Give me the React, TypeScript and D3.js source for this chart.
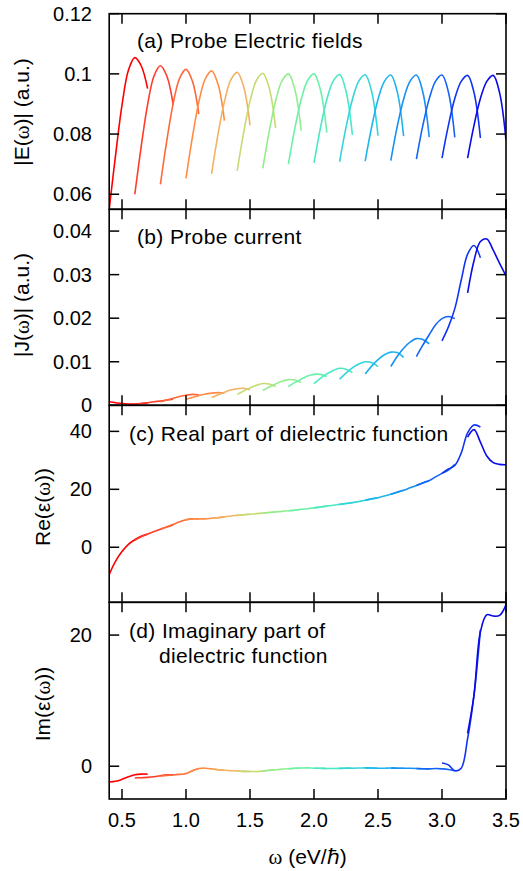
import React from "react";
import * as d3 from "d3";

// Probe central frequencies (eV/hbar); each segment spans centre-0.2 .. centre+0.1
const probeCenters = [0.6, 0.8, 1.0, 1.2, 1.4, 1.6, 1.8, 2.0, 2.2, 2.4, 2.6, 2.8, 3.0, 3.2, 3.4];
const segmentOffsets = [-0.2, -0.15, -0.1, -0.05, 0, 0.05, 0.1];

const segmentColors = [
  "#ff0000", "#ff3c28", "#ff6838", "#ff8c44", "#f2b264", "#c4dc72", "#92ee8c", "#6cf0aa",
  "#4ae8c4", "#34d4dc", "#1eb4ee", "#1690f4", "#1464f6", "#1034f2", "#0a0ae6",
];

// (a) |E(w)| per probe
const probeField = [
  [0.0550, 0.0731, 0.0896, 0.1012, 0.1054, 0.1027, 0.0951],
  [0.0600, 0.0759, 0.0898, 0.0993, 0.1027, 0.0993, 0.0898],
  [0.0633, 0.0778, 0.0902, 0.0985, 0.1015, 0.0976, 0.0866],
  [0.0653, 0.0790, 0.0906, 0.0983, 0.1010, 0.0966, 0.0845],
  [0.0668, 0.0799, 0.0907, 0.0980, 0.1005, 0.0958, 0.0830],
  [0.0678, 0.0804, 0.0909, 0.0978, 0.1002, 0.0953, 0.0820],
  [0.0686, 0.0809, 0.0910, 0.0977, 0.1000, 0.0949, 0.0811],
  [0.0700, 0.0818, 0.0915, 0.0978, 0.1000, 0.0947, 0.0805],
  [0.0704, 0.0820, 0.0915, 0.0976, 0.0998, 0.0943, 0.0797],
  [0.0708, 0.0822, 0.0915, 0.0976, 0.0997, 0.0942, 0.0795],
  [0.0710, 0.0823, 0.0915, 0.0975, 0.0996, 0.0941, 0.0793],
  [0.0712, 0.0825, 0.0916, 0.0975, 0.0996, 0.0940, 0.0790],
  [0.0717, 0.0828, 0.0917, 0.0976, 0.0996, 0.0940, 0.0789],
  [0.0720, 0.0829, 0.0918, 0.0975, 0.0995, 0.0938, 0.0787],
  [0.0720, 0.0829, 0.0918, 0.0975, 0.0995, 0.0937, 0.0780],
];

// (b) |J(w)| per probe
const probeCurrent = [
  [0.0008, 0.0006, 0.0004, 0.0003, 0.0003, 0.0004, 0.0005],
  [0.0003, 0.0004, 0.0006, 0.0008, 0.0010, 0.0012, 0.0014],
  [0.0008, 0.0012, 0.0016, 0.0020, 0.0023, 0.0025, 0.0024],
  [0.0014, 0.0018, 0.0022, 0.0026, 0.0028, 0.0029, 0.0028],
  [0.0018, 0.0024, 0.0030, 0.0035, 0.0038, 0.0039, 0.0036],
  [0.0025, 0.0033, 0.0040, 0.0046, 0.0050, 0.0049, 0.0043],
  [0.0034, 0.0042, 0.0049, 0.0055, 0.0059, 0.0058, 0.0052],
  [0.0043, 0.0052, 0.0060, 0.0067, 0.0071, 0.0071, 0.0066],
  [0.0050, 0.0062, 0.0072, 0.0080, 0.0085, 0.0083, 0.0075],
  [0.0060, 0.0074, 0.0086, 0.0095, 0.0100, 0.0098, 0.0089],
  [0.0072, 0.0090, 0.0105, 0.0116, 0.0122, 0.0121, 0.0110],
  [0.0089, 0.0112, 0.0131, 0.0145, 0.0153, 0.0151, 0.0141],
  [0.0112, 0.0138, 0.0162, 0.0185, 0.0199, 0.0204, 0.0199],
  [0.0148, 0.0180, 0.0222, 0.0287, 0.0347, 0.0367, 0.0339],
  [0.0258, 0.0332, 0.0376, 0.0382, 0.0356, 0.0326, 0.0297],
];

// (c) Re(eps(w)) per probe
const reEpsilon = [
  [-9.4, -4.8, -1.5, 1.0, 2.6, 3.8, 4.6],
  [2.4, 3.6, 4.5, 5.4, 6.2, 7.0, 7.7],
  [6.3, 7.1, 7.9, 8.8, 9.5, 9.8, 9.8],
  [9.5, 9.8, 9.8, 9.8, 10.0, 10.2, 10.5],
  [10.0, 10.2, 10.5, 10.8, 11.0, 11.2, 11.4],
  [11.0, 11.2, 11.4, 11.6, 11.8, 12.0, 12.2],
  [11.8, 12.0, 12.2, 12.4, 12.6, 12.8, 13.1],
  [12.6, 12.8, 13.1, 13.3, 13.6, 13.9, 14.2],
  [13.6, 13.9, 14.2, 14.5, 14.8, 15.1, 15.4],
  [14.8, 15.1, 15.4, 15.8, 16.2, 16.7, 17.1],
  [16.2, 16.7, 17.1, 17.7, 18.3, 19.0, 19.7],
  [18.3, 19.0, 19.7, 20.5, 21.3, 22.2, 23.0],
  [21.3, 22.2, 23.0, 24.3, 25.5, 26.6, 28.6],
  [25.5, 27.0, 28.2, 32.5, 39.5, 42.2, 41.5],
  [38.0, 40.6, 36.3, 31.5, 29.2, 28.6, 28.5],
];

// (d) Im(eps(w)) per probe
const imEpsilon = [
  [-2.4, -2.3, -2.0, -1.6, -1.3, -1.2, -1.2],
  [-1.8, -1.75, -1.7, -1.6, -1.45, -1.3, -1.35],
  [-1.5, -1.4, -1.35, -1.25, -1.1, -0.7, -0.35],
  [-1.15, -0.7, -0.35, -0.3, -0.4, -0.55, -0.62],
  [-0.4, -0.55, -0.62, -0.68, -0.72, -0.78, -0.8],
  [-0.72, -0.78, -0.8, -0.8, -0.75, -0.62, -0.55],
  [-0.75, -0.62, -0.55, -0.45, -0.38, -0.32, -0.28],
  [-0.38, -0.32, -0.28, -0.26, -0.3, -0.32, -0.35],
  [-0.3, -0.32, -0.35, -0.35, -0.33, -0.3, -0.3],
  [-0.33, -0.3, -0.3, -0.28, -0.25, -0.28, -0.3],
  [-0.25, -0.28, -0.3, -0.3, -0.28, -0.3, -0.32],
  [-0.28, -0.3, -0.32, -0.32, -0.34, -0.38, -0.4],
  [-0.34, -0.38, -0.4, -0.35, -0.4, -0.5, -0.7],
  [0.5, 0.2, -0.7, -0.3, 4.2, 10.8, 20.8],
  [5.0, 10.9, 20.5, 23.1, 22.9, 23.0, 24.6],
];

const xTicks = [0.5, 1.0, 1.5, 2.0, 2.5, 3.0, 3.5];
const xTickLabels = ["0.5", "1.0", "1.5", "2.0", "2.5", "3.0", "3.5"];
const fieldTicks = [0.06, 0.08, 0.1, 0.12];
const fieldTickLabels = ["0.06", "0.08", "0.1", "0.12"];
const currentTicks = [0, 0.01, 0.02, 0.03, 0.04];
const currentTickLabels = ["0", "0.01", "0.02", "0.03", "0.04"];
const reTicks = [0, 20, 40];
const reTickLabels = ["0", "20", "40"];
const imTicks = [0, 20];
const imTickLabels = ["0", "20"];

const FONT = "'Liberation Sans', Arial, Helvetica, sans-serif";
const X0 = 109.2;
const X1 = 506;
const x = d3.scaleLinear().domain([0.4, 3.5]).range([X0, X1]);

type PanelProps = {
  id: string;
  top: number;
  bottom: number;
  domain: [number, number];
  data: number[][];
  ticks: number[];
  tickLabels: string[];
};

function Panel({ id, top, bottom, domain, data, ticks, tickLabels }: PanelProps) {
  const y = d3.scaleLinear().domain(domain).range([bottom, top]);
  const line = d3
    .line<[number, number]>()
    .x((d) => x(d[0]))
    .y((d) => y(d[1]))
    .curve(d3.curveCatmullRom.alpha(0.5));
  const T = 10;
  return (
    <g>
      <defs>
        <clipPath id={`clip-${id}`}>
          <rect x={X0} y={top} width={X1 - X0} height={bottom - top} />
        </clipPath>
      </defs>
      <g clipPath={`url(#clip-${id})`}>
        {data.map((vals, i) => {
          const pts: [number, number][] = vals.map((v, k) => [probeCenters[i] + segmentOffsets[k], v]);
          return (
            <path key={i} d={line(pts) || ""} fill="none" stroke={segmentColors[i]} strokeWidth={1.6} />
          );
        })}
      </g>
      {ticks.map((t, i) => (
        <g key={"y" + i}>
          <line x1={X0} x2={X0 + T} y1={y(t)} y2={y(t)} stroke="#000" strokeWidth={1.5} />
          <line x1={X1 - T} x2={X1} y1={y(t)} y2={y(t)} stroke="#000" strokeWidth={1.5} />
          <text x={92} y={y(t)} dy="0.35em" textAnchor="end" fontSize={20} fontFamily={FONT}>
            {tickLabels[i]}
          </text>
        </g>
      ))}
      {xTicks.map((t, i) => (
        <g key={"x" + i}>
          <line x1={x(t)} x2={x(t)} y1={bottom} y2={bottom - T} stroke="#000" strokeWidth={1.5} />
          <line x1={x(t)} x2={x(t)} y1={top} y2={top + T} stroke="#000" strokeWidth={1.5} />
        </g>
      ))}
      <rect x={X0} y={top} width={X1 - X0} height={bottom - top} fill="none" stroke="#000" strokeWidth={1.6} />
    </g>
  );
}

const omegaSpan = (
  <tspan fontFamily="'Liberation Serif', 'DejaVu Serif', serif">ω</tspan>
);

export default function App() {
  return (
    <svg
      width={523}
      height={871}
      style={{ position: "absolute", left: 0, top: 0, background: "#fff" }}
      fontFamily={FONT}
    >
      <rect width={523} height={871} fill="#fff" />
      <Panel id="a" top={13.7} bottom={209.3} domain={[0.055, 0.12]} data={probeField} ticks={fieldTicks} tickLabels={fieldTickLabels} />
      <Panel id="b" top={209.3} bottom={405.3} domain={[0, 0.045]} data={probeCurrent} ticks={currentTicks} tickLabels={currentTickLabels} />
      <Panel id="c" top={405.3} bottom={602.3} domain={[-19, 49]} data={reEpsilon} ticks={reTicks} tickLabels={reTickLabels} />
      <Panel id="d" top={602.3} bottom={799} domain={[-5, 25]} data={imEpsilon} ticks={imTicks} tickLabels={imTickLabels} />

      <g fontSize={21} letterSpacing={0.35}>
        <text x={137} y={48}>(a) Probe Electric fields</text>
        <text x={137} y={244}>(b) Probe current</text>
        <text x={129} y={441}>(c) Real part of dielectric function</text>
        <text x={129} y={638}>(d) Imaginary part of</text>
        <text x={159} y={663}>dielectric function</text>
      </g>

      <g fontSize={21} textAnchor="middle">
        <text transform="translate(29,112) rotate(-90)">|E({omegaSpan})| (a.u.)</text>
        <text transform="translate(29,305) rotate(-90)">|J({omegaSpan})| (a.u.)</text>
        <text transform="translate(50,507) rotate(-90)">Re(ε({omegaSpan}))</text>
        <text transform="translate(50,704) rotate(-90)">Im(ε({omegaSpan}))</text>
      </g>

      {xTicks.map((t, i) => (
        <text key={i} x={x(t)} y={827} textAnchor="middle" fontSize={20}>
          {xTickLabels[i]}
        </text>
      ))}
      <text x={307.6} y={864} textAnchor="middle" fontSize={21}>
        {omegaSpan} (eV/ℏ)
      </text>
    </svg>
  );
}
